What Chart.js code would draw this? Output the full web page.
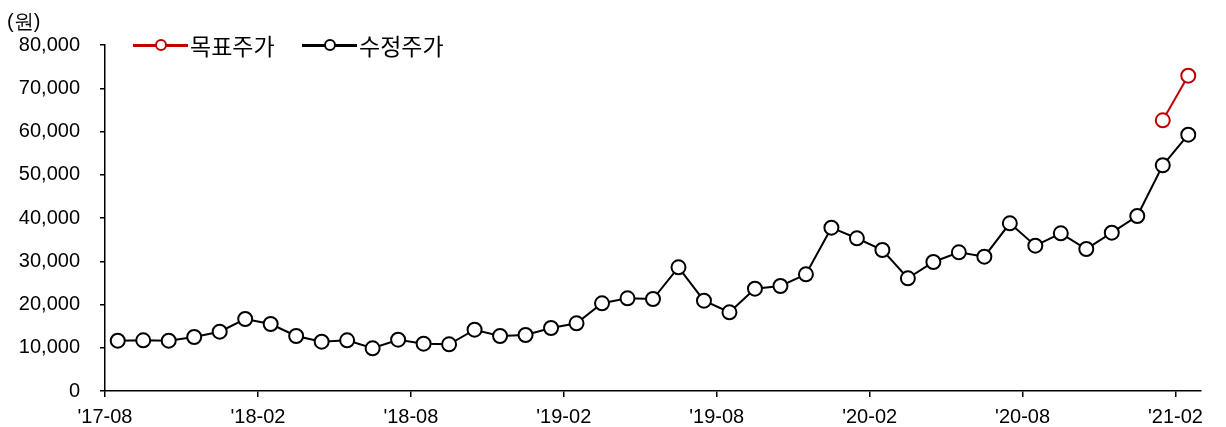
<!DOCTYPE html>
<html lang="ko">
<head>
<meta charset="utf-8">
<script src="https://cdn.jsdelivr.net/npm/chart.js@4.4.1/dist/chart.umd.min.js"></script>
<style>
    body { margin: 0; background: #fff; }
    #wrap { position: relative; width: 1226px; height: 427px; }
    #unit { position: absolute; left: 7px; top: 8px; font: 20px "Liberation Sans", Arial, sans-serif; color: #000; }
    .legend { position: absolute; top: 28px; display: flex; align-items: center; font: 23px "Noto Sans CJK KR", sans-serif; color: #000; }
    .legend .mark { position: relative; width: 55px; height: 3px; margin-right: 2px; }
    .legend .mark span { position: absolute; left: 22px; top: -5px; width: 8px; height: 8px; border-radius: 50%; border: 2.5px solid; background: #fff; }
</style>
</head>
<body>
<div id="wrap">
    <canvas id="priceChart" width="1226" height="427"></canvas>
    <div id="unit">(원)</div>
    <div class="legend" style="left:133px">
        <div class="mark" style="background:#c00000"><span style="border-color:#c00000"></span></div>목표주가
    </div>
    <div class="legend" style="left:302px">
        <div class="mark" style="background:#000"><span style="border-color:#000"></span></div>수정주가
    </div>
</div>
<script>
// 월 (각 점은 해당 월의 중간에 찍힘)
const months = ["'17-08", "'17-09", "'17-10", "'17-11", "'17-12", "'18-01", "'18-02", "'18-03", "'18-04", "'18-05",
    "'18-06", "'18-07", "'18-08", "'18-09", "'18-10", "'18-11", "'18-12", "'19-01", "'19-02", "'19-03",
    "'19-04", "'19-05", "'19-06", "'19-07", "'19-08", "'19-09", "'19-10", "'19-11", "'19-12", "'20-01",
    "'20-02", "'20-03", "'20-04", "'20-05", "'20-06", "'20-07", "'20-08", "'20-09", "'20-10", "'20-11",
    "'20-12", "'21-01", "'21-02"];

// x축 눈금 라벨
const tickLabels = ["'17-08", "'18-02", "'18-08", "'19-02", "'19-08", "'20-02", "'20-08", "'21-02"];

// 수정주가 (원)
const adjPrice = [11630, 11720, 11630, 12490, 13710, 16650, 15490, 12720, 11400, 11720,
    9870, 11860, 10940, 10800, 14170, 12720, 12950, 14570, 15650, 20280,
    21430, 21270, 28600, 20880, 18200, 23650, 24280, 26980, 37760, 35310,
    32600, 26060, 29830, 32070, 31050, 38770, 33600, 36460, 32830, 36600,
    40460, 52190, 59260];

// 목표주가 (원)
const targetPrice = [null, null, null, null, null, null, null, null, null, null,
    null, null, null, null, null, null, null, null, null, null,
    null, null, null, null, null, null, null, null, null, null,
    null, null, null, null, null, null, null, null, null, null,
    null, 62590, 72900];

const yTicks = [0, 10000, 20000, 30000, 40000, 50000, 60000, 70000, 80000];

let baseFont = { family: "'Liberation Sans', Arial, sans-serif", size: 20 };

function toPoints(values) {
    return values.map(function (v, i) { return { x: i + 0.5, y: v }; });
}

let ctx = document.getElementById('priceChart').getContext('2d');

let chart = new Chart(ctx, {
    type: 'line',
    data: {
        datasets: [
            {
                label: '목표주가',
                data: toPoints(targetPrice),
                borderColor: '#c00000',
                backgroundColor: '#ffffff',
                borderWidth: 2,
                pointRadius: 7,
                pointBorderWidth: 2,
                pointBorderColor: '#c00000',
                pointBackgroundColor: '#ffffff',
                spanGaps: false
            },
            {
                label: '수정주가',
                data: toPoints(adjPrice),
                borderColor: '#000000',
                backgroundColor: '#ffffff',
                borderWidth: 2,
                pointRadius: 7,
                pointBorderWidth: 2,
                pointBorderColor: '#000000',
                pointBackgroundColor: '#ffffff'
            }
        ]
    },
    options: {
        responsive: false,
        animation: false,
        layout: { padding: { top: 45, right: 25, left: 15, bottom: 0 } },
        plugins: {
            legend: { display: false },
            tooltip: { enabled: false }
        },
        scales: {
            x: {
                type: 'linear',
                min: 0,
                max: months.length,
                afterBuildTicks: function (scale) {
                    scale.ticks = tickLabels.map(function (l) { return { value: months.indexOf(l) }; });
                },
                afterFit: function (scale) { scale.height = 36; },
                ticks: {
                    color: '#000',
                    font: baseFont,
                    padding: 8,
                    maxRotation: 0,
                    autoSkip: false,
                    callback: function (v) { return months[v]; }
                },
                grid: { drawOnChartArea: false, drawTicks: true, tickLength: 6, color: '#000', lineWidth: 1.5 },
                border: { color: '#000', width: 1.5 }
            },
            y: {
                min: 0,
                max: 80000,
                afterBuildTicks: function (scale) {
                    scale.ticks = yTicks.map(function (v) { return { value: v }; });
                },
                afterFit: function (scale) { scale.width = 90; },
                ticks: {
                    color: '#000',
                    font: baseFont,
                    padding: 20,
                    callback: function (v) { return v.toLocaleString('en-US'); }
                },
                grid: { drawOnChartArea: false, drawTicks: true, tickLength: 5, color: '#000', lineWidth: 1.5 },
                border: { color: '#000', width: 1.5 }
            }
        }
    }
});
</script>
</body>
</html>
